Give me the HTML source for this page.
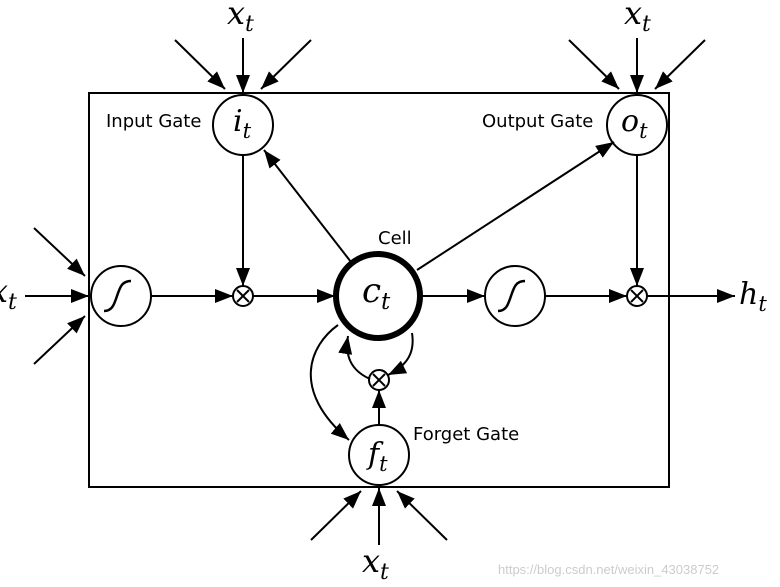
<!DOCTYPE html>
<html><head><style>body{margin:0;background:#fff}svg{display:block}</style></head><body>
<svg width="780" height="587" viewBox="0 0 780 587" xmlns="http://www.w3.org/2000/svg" font-family="DejaVu Sans, Liberation Sans, sans-serif">
<defs>
<marker id="b" markerWidth="18" markerHeight="14" refX="18" refY="7" orient="auto" markerUnits="userSpaceOnUse"><path d="M0,0L18,7L0,14z" fill="#000"/></marker></defs>
<g stroke="#000" stroke-width="2" fill="none">
<rect x="89" y="93" width="580" height="394"/>
<circle cx="243" cy="125" r="30" fill="#fff"/>
<circle cx="637" cy="125" r="30" fill="#fff"/>
<circle cx="121" cy="296" r="30"/>
<circle cx="515" cy="296" r="30"/>
<circle cx="379" cy="455" r="30" fill="#fff"/>
<circle cx="378" cy="296" r="42" stroke-width="6"/>
<circle cx="243" cy="296" r="10"/><circle cx="637" cy="296" r="10"/><circle cx="379" cy="380" r="10"/>
<path d="M237,290l12,12M249,290l-12,12M631,290l12,12M643,290l-12,12M373,374l12,12M385,374l-12,12"/>
<path d="M104,311c8,0 10,-6 13,-15s5,-15 14,-15" stroke-width="2.5"/>
<path d="M498,311c8,0 10,-6 13,-15s5,-15 14,-15" stroke-width="2.5"/>
<g marker-end="url(#b)">
<line x1="243" y1="38" x2="243" y2="93"/>
<line x1="175" y1="40" x2="225" y2="89"/>
<line x1="311" y1="40" x2="261" y2="89"/>
<line x1="637" y1="38" x2="637" y2="93"/>
<line x1="569" y1="40" x2="619" y2="89"/>
<line x1="705" y1="40" x2="655" y2="89"/>
<line x1="25" y1="296" x2="89" y2="296"/>
<line x1="34" y1="228" x2="85" y2="276"/>
<line x1="34" y1="364" x2="85" y2="316"/>
<line x1="379" y1="545" x2="379" y2="488"/>
<line x1="311" y1="540" x2="361" y2="491"/>
<line x1="447" y1="540" x2="397" y2="491"/>
<line x1="151" y1="296" x2="233" y2="296"/>
<line x1="243" y1="155" x2="243" y2="286"/>
<line x1="253" y1="296" x2="335" y2="296"/>
<line x1="351" y1="262" x2="264" y2="150"/>
<line x1="417" y1="270" x2="614" y2="142"/>
<line x1="421" y1="296" x2="485" y2="296"/>
<line x1="545" y1="296" x2="627" y2="296"/>
<line x1="637" y1="155" x2="637" y2="286"/>
<line x1="647" y1="296" x2="735" y2="296"/>
<line x1="379" y1="425" x2="379" y2="390"/>
<path d="M370,379C350,370 345,355 348,336"/>
<path d="M412,333C415,352 408,365 388,375"/>
<path d="M338,325C310,345 290,390 349,440"/>
</g>
</g>
<g font-size="18" fill="#000">
<text x="106" y="127">Input Gate</text>
<text x="482" y="127">Output Gate</text>
<text x="378" y="244">Cell</text>
<text x="413" y="440">Forget Gate</text>
</g>
<g font-family="DejaVu Serif, serif" font-style="italic" fill="#000">
<text x="227" y="24" font-size="32">x<tspan font-size="22" dy="7">t</tspan></text>
<text x="624" y="24" font-size="32">x<tspan font-size="22" dy="7">t</tspan></text>
<text x="362" y="572" font-size="32">x<tspan font-size="22" dy="7">t</tspan></text>
<text x="-10" y="302" font-size="32">x<tspan font-size="22" dy="7">t</tspan></text>
<text x="739" y="304" font-size="30">h<tspan font-size="21" dy="7">t</tspan></text>
<text x="233" y="131" font-size="30">i<tspan font-size="21" dy="7">t</tspan></text>
<text x="621" y="131" font-size="30">o<tspan font-size="21" dy="7">t</tspan></text>
<text x="362" y="302" font-size="34">c<tspan font-size="23" dy="7">t</tspan></text>
<text x="368" y="464" font-size="30">f<tspan font-size="21" dy="7">t</tspan></text>
</g>
<text x="498" y="574" font-size="13" fill="#ccc" font-family="Liberation Sans, sans-serif">https://blog.csdn.net/weixin_43038752</text>
</svg>
</body></html>
